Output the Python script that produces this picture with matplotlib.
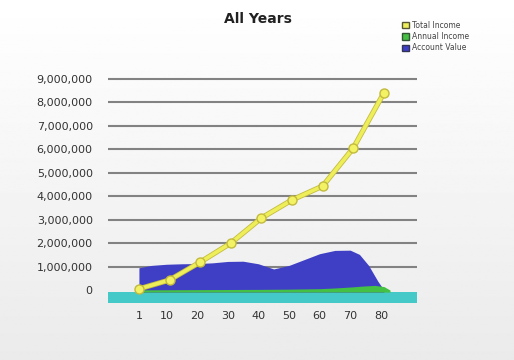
import numpy as np
import matplotlib
matplotlib.use("Agg")
import matplotlib.pyplot as plt
from matplotlib.patches import Patch
from matplotlib.ticker import FuncFormatter

# data
years_line = [1, 11, 21, 31, 41, 51, 61, 71, 81]
total_income = [50000, 430000, 1190000, 2000000, 3070000, 3840000, 4430000, 6050000, 8400000]

years_area = [1, 5, 10, 15, 20, 25, 30, 35, 40, 45, 50, 55, 60, 65, 70, 73, 76, 79, 81]
account_value = [950000, 1050000, 1100000, 1120000, 1130000, 1160000, 1220000, 1230000,
                 1120000, 900000, 1050000, 1300000, 1550000, 1690000, 1700000, 1520000,
                 1050000, 380000, 0]

years_income = [1, 10, 20, 30, 40, 50, 60, 65, 70, 74, 78, 81, 83]
annual_income = [10000, 15000, 20000, 25000, 30000, 40000, 60000, 90000, 130000, 170000,
                 200000, 150000, 0]

y_ticks = [0, 1000000, 2000000, 3000000, 4000000, 5000000, 6000000, 7000000, 8000000, 9000000]
x_ticks = [1, 10, 20, 30, 40, 50, 60, 70, 80]
legend_labels = ["Total Income", "Annual Income", "Account Value"]

yellow = "#eeee5a"
green = "#44c044"
blue = "#3f3fc6"
teal = "#44c8c8"
floor_top = -85000

fig = plt.figure(figsize=(5.14, 3.6), dpi=100)

# background gradient
bg = fig.add_axes([0, 0, 1, 1], zorder=-10)
grad = np.linspace(1.0, 0.92, 256).reshape(-1, 1)
bg.imshow(grad, aspect="auto", cmap="gray", vmin=0, vmax=1, extent=[0, 1, 0, 1])
bg.axis("off")

ax = fig.add_axes([108 / 514, 1 - 303 / 360, 309 / 514, 228 / 360])
ax.set_facecolor("none")
ax.set_xlim(-9.1, 91.8)
ax.set_ylim(-550000, 9160000)

for v in y_ticks[1:]:
    ax.axhline(v, color="#828282", lw=1.5, zorder=1)

ax.axhspan(-550000, floor_top, color=teal, zorder=2, lw=0)
ax.fill_between(years_area, floor_top, account_value, color=blue, lw=0, zorder=3)
ax.fill_between(years_income, floor_top, annual_income, color=green, lw=0, zorder=4)

ax.plot(years_line, total_income, color="#c4bc40", lw=3.8, zorder=5, solid_capstyle="round")
ax.plot(years_line, total_income, color=yellow, lw=2.6, zorder=6, solid_capstyle="round",
        marker="o", markersize=6.5, markerfacecolor="#f2f264", markeredgecolor="#c2ba3c",
        markeredgewidth=1)

ax.set_yticks(y_ticks)
ax.yaxis.set_major_formatter(FuncFormatter(lambda v, p: f"{int(v):,}"))
ax.set_xticks(x_ticks)
ax.tick_params(axis="y", length=0, pad=11, labelsize=8, labelcolor="#333333")
ax.tick_params(axis="x", length=0, pad=6, labelsize=8, labelcolor="#333333")
for s in ax.spines.values():
    s.set_visible(False)

fig.text(258 / 514, 1 - 19 / 360, "All Years", ha="center", va="center",
         fontsize=10, fontweight="bold", color="#222222")

handles = [Patch(facecolor=yellow, edgecolor="#555533"),
           Patch(facecolor=green, edgecolor="#335533"),
           Patch(facecolor=blue, edgecolor="#333355")]
fig.legend(handles, legend_labels, loc="upper left", bbox_to_anchor=(398 / 514, 1 - 17 / 360),
           frameon=False, fontsize=5.5, handlelength=0.9, handleheight=0.9,
           handletextpad=0.4, labelspacing=0.3, borderpad=0, labelcolor="#444444")

fig.savefig("out.png", dpi=100)
